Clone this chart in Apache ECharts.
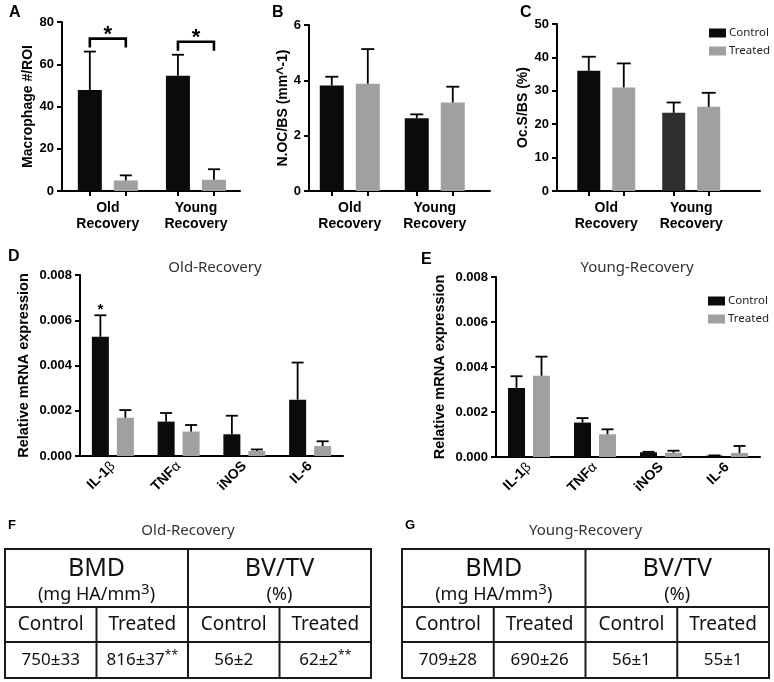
<!DOCTYPE html>
<html>
<head>
<meta charset="utf-8"/>
<title>Recovery panels</title>
<script src="https://cdn.jsdelivr.net/npm/echarts@6/dist/echarts.min.js"></script>
<style>html,body{margin:0;padding:0;background:#fff}</style>
</head>
<body>
<div id="main" style="width:774px;height:682px"></div>
<script type="text/javascript">
// ---- data ----
var groups = ['Old\nRecovery', 'Young\nRecovery'];

// A: macrophages per ROI
var macCtrl = [47.8, 54.5], macCtrlErr = [18.2, 10.0];
var macTrt = [5.0, 5.3], macTrtErr = [2.4, 5.0];
var sigA = ['*', '*'];

// B: N.OC/BS
var nocCtrl = [3.81, 2.63], nocCtrlErr = [0.32, 0.14];
var nocTrt = [3.88, 3.20], nocTrtErr = [1.25, 0.57];

// C: Oc.S/BS
var ocsCtrl = [36.0, 23.4], ocsCtrlErr = [4.2, 3.1];
var ocsTrt = [31.0, 25.2], ocsTrtErr = [7.2, 4.2];

// D / E: relative mRNA
var genes = ['IL-1β', 'TNFα', 'iNOS', 'IL-6'];
var oldCtrl = [0.00527, 0.00152, 0.00096, 0.00249];
var oldCtrlErr = [0.00095, 0.00038, 0.00082, 0.00164];
var oldTrt = [0.00169, 0.00108, 0.00022, 0.00044];
var oldTrtErr = [0.00034, 0.00029, 0.00007, 0.00021];
var sigD = ['*', '', '', ''];
var youngCtrl = [0.00307, 0.00153, 0.00021, 0.00006];
var youngCtrlErr = [0.00052, 0.00020, 0.00002, 0.00001];
var youngTrt = [0.00361, 0.00101, 0.00019, 0.00018];
var youngTrtErr = [0.00085, 0.00022, 0.00009, 0.00031];

// F / G: microCT tables
var tblHeads = ['BMD', 'BV/TV'];
var tblUnits = ['(mg HA/mm{s|3})', '(%)'];
var tblCols = ['Control', 'Treated', 'Control', 'Treated'];
var oldTbl = ['750±33', '816±37{s|**}', '56±2', '62±2{s|**}'];
var youngTbl = ['709±28', '690±26', '56±1', '55±1'];

// ---- style ----
var ARIAL = '"Liberation Sans", Arial, sans-serif';
var SOFT = '"Noto Sans", sans-serif';
var BLACK = '#0b0b0b', GRAY = '#9fa0a2', DARK = '#2f2f2f';

var P = [
  {left: 62, top: 22, width: 178, height: 169, min: -0.52, max: 1.5, barW: 24, gap: 12, cap: 12},
  {left: 309, top: 25, width: 181, height: 166, min: -0.48, max: 1.65, barW: 24, gap: 12, cap: 13},
  {left: 557, top: 24, width: 203, height: 167, min: -0.58, max: 1.81, barW: 23, gap: 12, cap: 14},
  {left: 80, top: 275, width: 263, height: 181, barW: 17, gap: 8, cap: 12},
  {left: 496, top: 277, width: 264, height: 180, barW: 17, gap: 8, cap: 12}
];
P.forEach(function (p) { p.off = (p.barW + p.gap) / 2; });

var myChart = echarts.init(document.getElementById('main'));

function groupAxis(i) {
  var p = P[i];
  var t = p.off / (p.width / (p.max - p.min));
  return {
    type: 'value', gridIndex: i, min: p.min, max: p.max,
    splitLine: {show: false},
    axisLine: {onZero: false, lineStyle: {color: '#000', width: 2}},
    axisTick: {show: true, length: 5, lineStyle: {color: '#000', width: 2},
      customValues: [-t, t, 1 - t, 1 + t]},
    axisLabel: {customValues: [0, 1], formatter: function (v) { return groups[Math.round(v)]; },
      color: '#000', fontFamily: ARIAL, fontWeight: 'bold', fontSize: 14, lineHeight: 16, margin: 9}
  };
}

function geneAxis(i) {
  return {
    type: 'category', gridIndex: i, data: genes,
    axisLine: {lineStyle: {color: '#000', width: 2}},
    axisTick: {length: 5, lineStyle: {color: '#000', width: 2}},
    axisLabel: {
      interval: 0, rotate: 45, margin: 8, color: '#000', fontFamily: ARIAL, fontWeight: 'bold', fontSize: 14,
      formatter: function (v) { return v.replace(/([αβ])/, '{g|$1}'); },
      rich: {g: {fontFamily: ARIAL, fontWeight: 'normal', fontSize: 14, color: '#000'}}
    }
  };
}

function valAxis(i, max, interval, name, gap, fmt) {
  return {
    type: 'value', gridIndex: i, min: 0, max: max, interval: interval,
    name: name, nameLocation: 'middle', nameGap: gap, nameRotate: 90,
    nameTextStyle: {color: '#000', fontFamily: ARIAL, fontWeight: 'bold', fontSize: i > 2 ? 14.5 : 14},
    splitLine: {show: false},
    axisLine: {show: true, onZero: false, lineStyle: {color: '#000', width: 2}},
    axisTick: {show: true, length: 5, lineStyle: {color: '#000', width: 2}},
    axisLabel: {color: '#000', fontFamily: ARIAL, fontWeight: 'bold', fontSize: 13, margin: 8, formatter: fmt}
  };
}

function bars(i, name, vals, color, usePairs, colors) {
  var p = P[i];
  return {
    type: 'bar', name: name, xAxisIndex: i, yAxisIndex: i,
    barWidth: p.barW, barGap: Math.round(p.gap / p.barW * 100) + '%',
    itemStyle: {color: color},
    data: vals.map(function (v, k) {
      var d = usePairs ? [k, v] : v;
      return colors && colors[k] ? {value: d, itemStyle: {color: colors[k]}} : d;
    }),
    z: 2
  };
}

function errs(i, means, es, side) {
  var p = P[i];
  return {
    type: 'custom', xAxisIndex: i, yAxisIndex: i, silent: true, z: 5,
    data: means.map(function (m, k) { return [k, m, es[k]]; }),
    renderItem: function (params, api) {
      var base = api.coord([api.value(0), api.value(1)]);
      var top = api.coord([api.value(0), api.value(1) + api.value(2)]);
      var x = base[0] + side * p.off;
      var st = {stroke: '#000', lineWidth: 1.8};
      return {type: 'group', children: [
        {type: 'line', shape: {x1: x, y1: base[1], x2: x, y2: top[1]}, style: st},
        {type: 'line', shape: {x1: x - p.cap / 2, y1: top[1], x2: x + p.cap / 2, y2: top[1]}, style: st}
      ]};
    }
  };
}

// bracket + star between control and treated bars
function bracketSig(i, marks, c, ce, t, te) {
  var p = P[i];
  return {
    type: 'custom', xAxisIndex: i, yAxisIndex: i, silent: true, z: 6,
    data: marks.map(function (s, k) { return [k, Math.max(c[k] + ce[k], t[k] + te[k]), s ? 1 : 0]; }),
    renderItem: function (params, api) {
      if (!api.value(2)) return;
      var q = api.coord([api.value(0), api.value(1)]);
      var x0 = q[0] - p.off, x1 = q[0] + p.off, yb = q[1] - 4, yt = q[1] - 13;
      return {type: 'group', children: [
        {type: 'polyline', shape: {points: [[x0, yb], [x0, yt], [x1, yt], [x1, yb]]},
          style: {stroke: '#000', lineWidth: 2.6, fill: null}},
        {type: 'text', style: {text: marks[params.dataIndex], x: q[0], y: yt - 4, align: 'center', verticalAlign: 'middle',
          font: 'bold 22px ' + ARIAL, fill: '#000'}}
      ]};
    }
  };
}

function starSig(i, marks, c, ce) {
  var p = P[i];
  return {
    type: 'custom', xAxisIndex: i, yAxisIndex: i, silent: true, z: 6,
    data: marks.map(function (s, k) { return [k, c[k] + ce[k], s ? 1 : 0]; }),
    renderItem: function (params, api) {
      if (!api.value(2)) return;
      var q = api.coord([api.value(0), api.value(1)]);
      return {type: 'text', style: {text: marks[params.dataIndex], x: q[0] - p.off, y: q[1] - 5, align: 'center',
        verticalAlign: 'middle', font: 'bold 15px ' + ARIAL, fill: '#000'}};
    }
  };
}

var fmt3 = function (v) { return v.toFixed(3); };

// superscript token: text sits above a bottom padding, so it rides high in the line
var supStyle = function (size, lift) {
  return {s: {fontSize: size, fontFamily: SOFT, fill: '#111', verticalAlign: 'bottom', lineHeight: size, padding: [0, 0, lift, 0]}};
};

// ---- tables ----
function tableGraphics(x0, w, title, letter, vals) {
  var y0 = 549, y1 = 607, y2 = 642, y3 = 678;
  var cw = w / 4, ln = {stroke: '#1a1a1a', lineWidth: 2};
  var els = [
    {type: 'text', left: x0 + 3, top: 519, style: {text: letter, font: 'bold 13px ' + ARIAL, fill: '#000'}},
    {type: 'text', style: {text: title, x: x0 + w / 2, y: 531, align: 'center', verticalAlign: 'middle',
      font: '15px ' + SOFT, fill: '#333'}},
    {type: 'rect', shape: {x: x0, y: y0, width: w, height: y3 - y0}, style: {fill: 'none', stroke: '#1a1a1a', lineWidth: 2}},
    {type: 'line', shape: {x1: x0, y1: y1, x2: x0 + w, y2: y1}, style: ln},
    {type: 'line', shape: {x1: x0, y1: y2, x2: x0 + w, y2: y2}, style: ln},
    {type: 'line', shape: {x1: x0 + 2 * cw, y1: y0, x2: x0 + 2 * cw, y2: y3}, style: ln},
    {type: 'line', shape: {x1: x0 + cw, y1: y1, x2: x0 + cw, y2: y3}, style: ln},
    {type: 'line', shape: {x1: x0 + 3 * cw, y1: y1, x2: x0 + 3 * cw, y2: y3}, style: ln}
  ];
  tblHeads.forEach(function (h, k) {
    var cx = x0 + cw * (2 * k + 1);
    els.push({type: 'text', style: {text: h, x: cx, y: 569, align: 'center', verticalAlign: 'middle',
      font: '25px ' + SOFT, fill: '#111'}});
    els.push({type: 'text', style: {text: tblUnits[k], x: cx, y: 595, align: 'center', verticalAlign: 'middle',
      font: '18px ' + SOFT, fill: '#111', lineHeight: 22, rich: supStyle(15, 9)}});
  });
  tblCols.forEach(function (c, k) {
    var cx = x0 + cw * (k + 0.5);
    els.push({type: 'text', style: {text: c, x: cx, y: 625, align: 'center', verticalAlign: 'middle',
      font: '19px ' + SOFT, fill: '#111'}});
    els.push({type: 'text', style: {text: vals[k], x: cx, y: 660, align: 'center', verticalAlign: 'middle',
      font: '17px ' + SOFT, fill: '#111', lineHeight: 20, rich: supStyle(12, 8)}});
  });
  return els;
}

var letters = [['A', 9, 5], ['B', 272, 5], ['C', 520, 5], ['D', 8, 249], ['E', 421, 252]].map(function (l) {
  return {type: 'text', left: l[1], top: l[2], style: {text: l[0], font: 'bold 16px ' + ARIAL, fill: '#000'}};
});
var subTitles = [['Old-Recovery', 215, 268], ['Young-Recovery', 637, 268]].map(function (t) {
  return {type: 'text', style: {text: t[0], x: t[1], y: t[2], align: 'center', verticalAlign: 'middle',
    font: '15px ' + SOFT, fill: '#333'}};
});

var legendBase = {
  data: ['Control', 'Treated'], orient: 'vertical', icon: 'rect', itemWidth: 17, itemHeight: 9, itemGap: 6,
  selectedMode: false, padding: 0, textStyle: {fontFamily: SOFT, fontSize: 11.5, color: '#222', padding: [0, 0, 0, -2]}
};

var option = {
  animation: false,
  backgroundColor: '#fff',
  grid: P.map(function (p) { return {left: p.left, top: p.top, width: p.width, height: p.height}; }),
  xAxis: [groupAxis(0), groupAxis(1), groupAxis(2), geneAxis(3), geneAxis(4)],
  yAxis: [
    valAxis(0, 80, 20, 'Macrophage #/ROI', 26),
    valAxis(1, 6, 2, 'N.OC/BS (mm^-1)', 18),
    valAxis(2, 50, 10, 'Oc.S/BS (%)', 26),
    valAxis(3, 0.008, 0.002, 'Relative mRNA expression', 49, fmt3),
    valAxis(4, 0.008, 0.002, 'Relative mRNA expression', 49, fmt3)
  ],
  legend: [
    echarts.util.extend({left: 709, top: 27}, legendBase),
    echarts.util.extend({left: 708, top: 295}, legendBase)
  ],
  series: [
    bars(0, 'Control', macCtrl, BLACK, true), bars(0, 'Treated', macTrt, GRAY, true),
    errs(0, macCtrl, macCtrlErr, -1), errs(0, macTrt, macTrtErr, 1),
    bracketSig(0, sigA, macCtrl, macCtrlErr, macTrt, macTrtErr),

    bars(1, 'Control', nocCtrl, BLACK, true), bars(1, 'Treated', nocTrt, GRAY, true),
    errs(1, nocCtrl, nocCtrlErr, -1), errs(1, nocTrt, nocTrtErr, 1),

    bars(2, 'Control', ocsCtrl, BLACK, true, [null, DARK]), bars(2, 'Treated', ocsTrt, GRAY, true),
    errs(2, ocsCtrl, ocsCtrlErr, -1), errs(2, ocsTrt, ocsTrtErr, 1),

    bars(3, 'Control', oldCtrl, BLACK), bars(3, 'Treated', oldTrt, GRAY),
    errs(3, oldCtrl, oldCtrlErr, -1), errs(3, oldTrt, oldTrtErr, 1),
    starSig(3, sigD, oldCtrl, oldCtrlErr),

    bars(4, 'Control', youngCtrl, BLACK), bars(4, 'Treated', youngTrt, GRAY),
    errs(4, youngCtrl, youngCtrlErr, -1), errs(4, youngTrt, youngTrtErr, 1)
  ],
  graphic: {elements: letters.concat(subTitles,
    tableGraphics(5, 366, 'Old-Recovery', 'F', oldTbl),
    tableGraphics(402, 367, 'Young-Recovery', 'G', youngTbl))}
};

myChart.setOption(option);
</script>
</body>
</html>
